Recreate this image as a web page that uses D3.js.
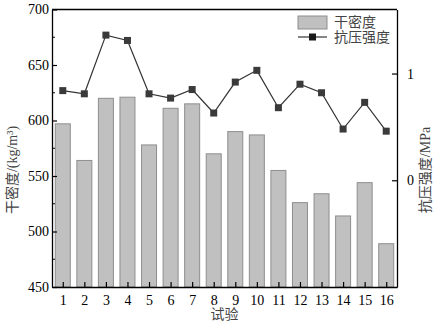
<!DOCTYPE html>
<html>
<head>
<meta charset="utf-8">
<script src="https://cdn.jsdelivr.net/npm/d3@7"></script>
<style>
  body { margin: 0; background: #fff; }
  text { font-family: "Liberation Serif", "Noto Sans CJK SC", serif; }
</style>
</head>
<body>
<svg id="chart" width="434" height="323"></svg>
<script>
// 试验编号
const trials = d3.range(1, 17);
// 干密度 kg/m3
const density = [597, 564, 620, 621, 578, 611, 615, 570, 590, 587, 555, 526, 534, 514, 544, 489];
// 抗压强度 MPa
const strength = [0.84, 0.81, 1.36, 1.31, 0.81, 0.77, 0.85, 0.63, 0.92, 1.03, 0.68, 0.90, 0.82, 0.48, 0.73, 0.46];
const leftTicks = [450, 500, 550, 600, 650, 700];
const rightTicks = [0, 1];

const svg = d3.select('#chart');
const mLeft = 52, mRight = 397, mTop = 9.5, mBottom = 287;

const x = d3.scaleLinear().domain([0.5, 16.5]).range([mLeft, mRight]);
const yL = d3.scaleLinear().domain([450, 700]).range([mBottom, mTop]);
const yR = d3.scaleLinear().domain([-1, 1.6]).range([mBottom, mTop]);
const barW = 15;

// 柱子
svg.selectAll('rect.bar')
  .data(trials)
  .enter()
  .append('rect')
  .attr('class', 'bar')
  .attr('x', d => x(d) - barW / 2)
  .attr('y', (d, i) => yL(density[i]))
  .attr('width', barW)
  .attr('height', (d, i) => mBottom - yL(density[i]))
  .attr('fill', '#c0c0c0')
  .attr('stroke', '#8e8e8e')
  .attr('stroke-width', 1);

// 折线
const line = d3.line()
  .x((d, i) => x(trials[i]))
  .y(d => yR(d));

svg.append('path')
  .datum(strength)
  .attr('d', line)
  .attr('fill', 'none')
  .attr('stroke', '#333')
  .attr('stroke-width', 1.2);

svg.selectAll('rect.pt')
  .data(strength)
  .enter()
  .append('rect')
  .attr('class', 'pt')
  .attr('x', (d, i) => x(trials[i]) - 3.5)
  .attr('y', d => yR(d) - 3.5)
  .attr('width', 7)
  .attr('height', 7)
  .attr('fill', '#3a3a3a');

// 坐标轴
const axisStyle = g => {
  g.select('.domain').attr('stroke', '#000').attr('stroke-width', 1.3);
  g.selectAll('.tick line').attr('stroke', '#000').attr('stroke-width', 1.2);
  g.selectAll('.tick text').attr('font-size', 14).attr('fill', '#000')
    .attr('font-family', '"Liberation Serif", serif');
};

svg.append('g')
  .attr('transform', `translate(0,${mBottom})`)
  .call(d3.axisBottom(x).tickValues(trials).tickFormat(d3.format('d')).tickSizeInner(-5).tickSizeOuter(0).tickPadding(8))
  .call(axisStyle);

svg.append('g')
  .attr('transform', `translate(${mLeft},0)`)
  .call(d3.axisLeft(yL).tickValues(leftTicks).tickSizeInner(-5).tickSizeOuter(0).tickPadding(3))
  .call(axisStyle);

// 左轴次刻度
svg.append('g')
  .selectAll('line')
  .data([475, 525, 575, 625, 675])
  .enter()
  .append('line')
  .attr('x1', mLeft)
  .attr('x2', mLeft + 3)
  .attr('y1', d => yL(d))
  .attr('y2', d => yL(d))
  .attr('stroke', '#000');

svg.append('g')
  .attr('transform', `translate(${mRight},0)`)
  .call(d3.axisRight(yR).tickValues(rightTicks).tickFormat(d3.format('d')).tickSizeInner(-5).tickSizeOuter(0).tickPadding(10))
  .call(axisStyle);

// 上边框
svg.append('line')
  .attr('x1', mLeft).attr('x2', mRight)
  .attr('y1', mTop).attr('y2', mTop)
  .attr('stroke', '#000').attr('stroke-width', 1.3);

// 轴标题
svg.append('text')
  .attr('transform', 'translate(17,170) rotate(-90)')
  .attr('text-anchor', 'middle')
  .attr('font-size', 14)
  .attr('fill', '#444')
  .text('干密度/(kg/m³)');

svg.append('text')
  .attr('transform', 'translate(430,170) rotate(-90)')
  .attr('text-anchor', 'middle')
  .attr('font-size', 14)
  .attr('fill', '#444')
  .text('抗压强度/MPa');

svg.append('text')
  .attr('x', (mLeft + mRight) / 2)
  .attr('y', 319)
  .attr('text-anchor', 'middle')
  .attr('font-size', 14)
  .attr('fill', '#444')
  .text('试验');

// 图例
const legend = svg.append('g');
legend.append('rect')
  .attr('x', 298).attr('y', 16)
  .attr('width', 29).attr('height', 13)
  .attr('fill', '#c0c0c0')
  .attr('stroke', '#8e8e8e');
legend.append('text')
  .attr('x', 334).attr('y', 27)
  .attr('font-size', 14).attr('fill', '#444')
  .text('干密度');
legend.append('line')
  .attr('x1', 298).attr('x2', 327)
  .attr('y1', 37).attr('y2', 37)
  .attr('stroke', '#333').attr('stroke-width', 1.2);
legend.append('rect')
  .attr('x', 309).attr('y', 33.5).attr('width', 7).attr('height', 7)
  .attr('fill', '#1a1a1a');
legend.append('text')
  .attr('x', 334).attr('y', 42)
  .attr('font-size', 14).attr('fill', '#444')
  .text('抗压强度');
</script>
</body>
</html>
